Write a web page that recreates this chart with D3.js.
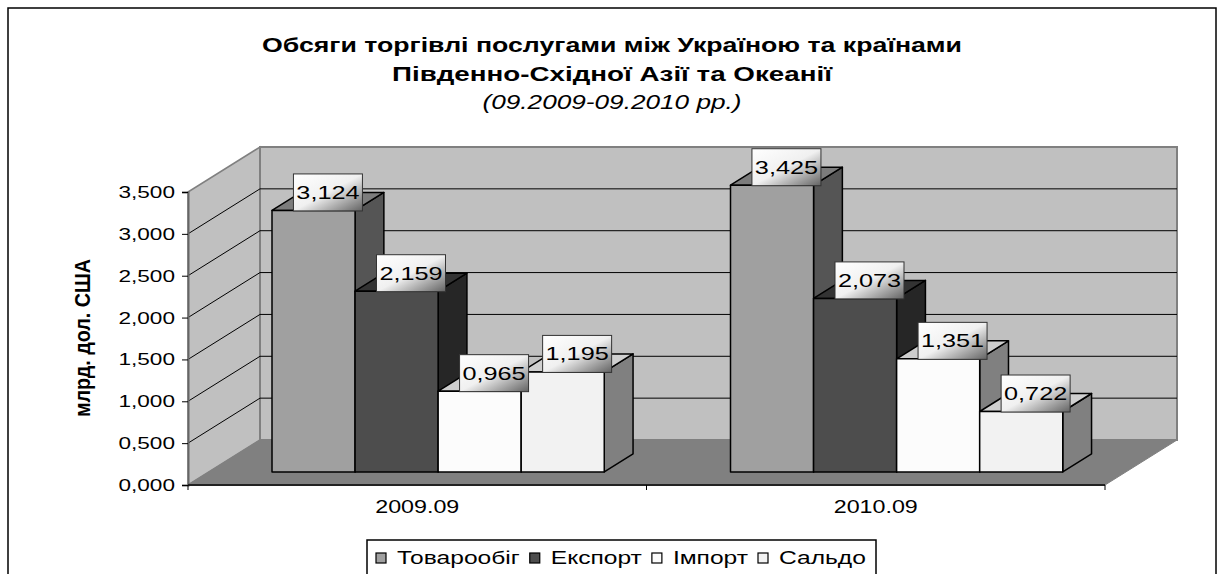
<!DOCTYPE html>
<html>
<head>
<meta charset="utf-8">
<script src="https://cdn.jsdelivr.net/npm/d3@7"></script>
<style>
  body { margin: 0; background: #fff; }
  svg { display: block; }
</style>
</head>
<body>
<svg id="chart" width="1224" height="574"></svg>
<script>
// дані
const categories = ["2009.09", "2010.09"];
const seriesNames = ["Товарообіг", "Експорт", "Імпорт", "Сальдо"];
const turnover = [3.124, 3.425];
const exportVals = [2.159, 2.073];
const importVals = [0.965, 1.351];
const balance = [1.195, 0.722];
const yTicks = [0, 0.5, 1, 1.5, 2, 2.5, 3, 3.5];
const titleLines = ["Обсяги торгівлі послугами між Україною та країнами", "Південно-Східної Азії та Океанії"];
const subtitle = "(09.2009-09.2010 рр.)";
const yTitle = "млрд. дол. США";

const values = [turnover, exportVals, importVals, balance];

const svg = d3.select("#chart");
const FONT = "'Liberation Sans', Arial, sans-serif";
const SX = 1.33; // оригінал розтягнутий по горизонталі

// кольори граней: фронт, верх, бік
const fronts = ["#a0a0a0", "#4d4d4d", "#fcfcfc", "#f2f2f2"];
const tops = ["#7c7c7c", "#333333", "#cdcdcd", "#d0d0d0"];
const sides = ["#555555", "#262626", "#808080", "#808080"];

const fmt = v => d3.format(".3f")(v).replace(".", ",");

// масштаби (передня площина)
const x = d3.scaleBand().domain(categories).range([188, 1105]);
const inner = d3.scaleBand().domain(seriesNames).range([0, x.bandwidth()])
    .paddingInner(0).paddingOuter(0.76);
const y = d3.scaleLinear().domain([0, 3.5]).range([485, 192]);

// глибина 3D
const DX = 72, DY = 45;
const F0 = 0.29, F1 = 0.69;
const proj = (px, py, f) => [px + f * DX, py - f * DY];
const pts = arr => arr.map(p => p.join(",")).join(" ");

// текст, розтягнутий по x (або підігнаний під ширину)
function stext(parent, px, py, str, size, opts = {}) {
    const sx = opts.width ? 1 : SX;
    const t = parent.append("text")
        .attr("transform", `translate(${px},${py}) scale(${sx},1)` + (opts.rotate ? ` rotate(${opts.rotate})` : ""))
        .attr("text-anchor", opts.anchor || "middle")
        .attr("font-family", FONT)
        .attr("font-size", size)
        .attr("font-weight", opts.bold ? "bold" : "normal")
        .attr("font-style", opts.italic ? "italic" : "normal")
        .attr("fill", "#000")
        .text(str);
    if (opts.width) t.attr("textLength", opts.width).attr("lengthAdjust", "spacingAndGlyphs");
    if (opts.rotate && opts.len) t.attr("textLength", opts.len).attr("lengthAdjust", "spacingAndGlyphs");
    return t;
}

// градієнт для підписів
const defs = svg.append("defs");
const grad = defs.append("linearGradient").attr("id", "lblGrad")
    .attr("x1", 0).attr("y1", 0).attr("x2", 1).attr("y2", 1);
grad.append("stop").attr("offset", "0%").attr("stop-color", "#ffffff");
grad.append("stop").attr("offset", "50%").attr("stop-color", "#f0f0f0");
grad.append("stop").attr("offset", "100%").attr("stop-color", "#626262");

// рамка
svg.append("rect").attr("x", 8).attr("y", 8).attr("width", 1208).attr("height", 600)
    .attr("fill", "#fff").attr("stroke", "#000").attr("stroke-width", 1.5);

// заголовок
stext(svg, 612, 52, titleLines[0], 20, { bold: true, width: 700 });
stext(svg, 612, 81, titleLines[1], 20, { bold: true, width: 440 });
stext(svg, 612, 109, subtitle, 20, { italic: true, width: 259 });

// стіни та підлога
const xL = x.range()[0], xR = x.range()[1];
const y0 = y(0), yTop = y(3.5);
const walls = svg.append("g");
walls.append("polygon")
    .attr("points", pts([proj(xL, y0, 0), proj(xL, y0, 1), proj(xL, yTop, 1), proj(xL, yTop, 0)]))
    .attr("fill", "#c0c0c0").attr("stroke", "#808080").attr("stroke-width", 1.5);
walls.append("polygon")
    .attr("points", pts([proj(xL, y0, 1), proj(xR, y0, 1), proj(xR, yTop, 1), proj(xL, yTop, 1)]))
    .attr("fill", "#c0c0c0").attr("stroke", "#808080").attr("stroke-width", 2);

// сітка
yTicks.filter(v => v > 0 && v < 3.5).forEach(v => {
    const a = proj(xL, y(v), 0), b = proj(xL, y(v), 1), c = proj(xR, y(v), 1);
    walls.append("polyline").attr("points", pts([a, b, c]))
        .attr("fill", "none").attr("stroke", "#000").attr("stroke-width", 1);
});

walls.append("polygon")
    .attr("points", pts([proj(xL, y0, 0), proj(xR, y0, 0), proj(xR, y0, 1), proj(xL, y0, 1)]))
    .attr("fill", "#808080").attr("stroke", "#808080").attr("stroke-width", 1);

// вісь Y
const yAxis = svg.append("g")
    .attr("transform", `translate(${xL},0)`)
    .call(d3.axisLeft(y).tickValues(yTicks).tickSize(6).tickFormat(fmt));
yAxis.select(".domain").attr("stroke", "#666").attr("stroke-width", 2);
yAxis.selectAll(".tick line").attr("stroke", "#000");
yAxis.selectAll(".tick text")
    .attr("x", -13 / SX)
    .attr("transform", `scale(${SX},1)`)
    .attr("font-family", FONT)
    .attr("font-size", 17)
    .attr("fill", "#000");

stext(svg, 90, 338, yTitle, 17, { bold: true, rotate: -90, len: 158 });

// вісь X
svg.append("line").attr("x1", xL).attr("x2", xR).attr("y1", y0).attr("y2", y0)
    .attr("stroke", "#222").attr("stroke-width", 2);
const edges = categories.map(c => x(c)).concat([xR]);
svg.selectAll(".xtick").data(edges).join("line")
    .attr("x1", d => d).attr("x2", d => d).attr("y1", y0).attr("y2", y0 + 5)
    .attr("stroke", "#000");
categories.forEach(c => stext(svg, x(c) + x.bandwidth() / 2, 513, c, 17.5));

// стовпці
const bars = svg.append("g");
const labels = [];
categories.forEach((c, ci) => {
    seriesNames.forEach((s, si) => {
        const v = values[si][ci];
        const l = x(c) + inner(s), r = l + inner.bandwidth();
        const t = y(v);
        const g = bars.append("g").attr("stroke", "#000").attr("stroke-width", 1.5).attr("stroke-linejoin", "round");
        g.append("polygon")
            .attr("points", pts([proj(r, t, F0), proj(r, t, F1), proj(r, y0, F1), proj(r, y0, F0)]))
            .attr("fill", sides[si]);
        g.append("polygon")
            .attr("points", pts([proj(l, t, F0), proj(r, t, F0), proj(r, t, F1), proj(l, t, F1)]))
            .attr("fill", tops[si]);
        g.append("polygon")
            .attr("points", pts([proj(l, t, F0), proj(r, t, F0), proj(r, y0, F0), proj(l, y0, F0)]))
            .attr("fill", fronts[si]);
        const cx = proj((l + r) / 2, t, (F0 + F1) / 2)[0];
        const cy = proj((l + r) / 2, t, F1)[1];
        labels.push({ cx, cy, text: fmt(v) });
    });
});

// підписи значень
const lg = svg.append("g");
labels.forEach(d => {
    lg.append("rect").attr("x", d.cx - 34.5).attr("y", d.cy - 18.5)
        .attr("width", 69).attr("height", 37)
        .attr("fill", "url(#lblGrad)").attr("stroke", "#333").attr("stroke-width", 1);
    stext(lg, d.cx, d.cy + 6.5, d.text, 19);
});

// легенда
const leg = svg.append("g");
leg.append("rect").attr("x", 367).attr("y", 540).attr("width", 509).attr("height", 60)
    .attr("fill", "#fff").attr("stroke", "#000").attr("stroke-width", 1.5);
let cursor = 376;
seriesNames.forEach((s, si) => {
    leg.append("rect").attr("x", cursor).attr("y", 553).attr("width", 10).attr("height", 10)
        .attr("fill", fronts[si]).attr("stroke", "#000").attr("stroke-width", 1.2);
    const t = stext(leg, cursor + 21, 564, s, 18.5, { anchor: "start" });
    const w = t.node().getComputedTextLength() * SX;
    cursor += 21 + w + 10;
});
</script>
</body>
</html>
